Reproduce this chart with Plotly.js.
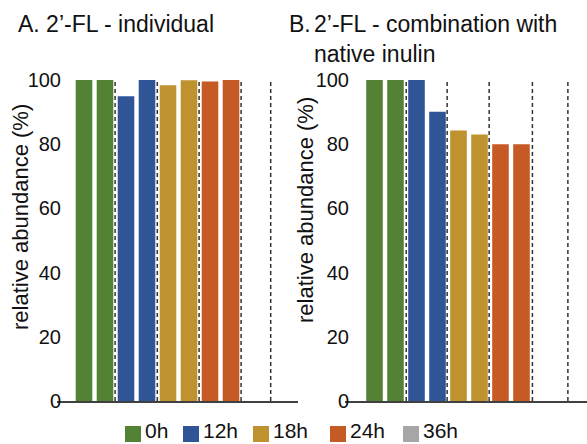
<!DOCTYPE html>
<html>
<head>
<meta charset="utf-8">
<script src="https://cdn.plot.ly/plotly-3.0.1.min.js"></script>
<style>html,body{margin:0;padding:0;background:#fff;}#chart{width:587px;height:444px;}</style>
</head>
<body>
<div id="chart"></div>
<script>
// ---- data ----
const groups = ['0h', '12h', '18h', '24h', '36h'];
const slots = [0, 1, 2, 3, 4, 5, 6, 7, 8, 9];          // two bar slots per time point
const valuesA = [100, 100, 94.9, 100, 98.4, 99.9, 99.5, 100, null, null];
const valuesB = [100, 100, 100, 90.1, 84.3, 83.0, 80.0, 80.0, null, null];
const separatorsA = [1.48, 3.49, 5.48, 7.48, 8.89];
const separatorsB = [1.51, 3.46, 5.46, 7.52, 9.21];
const tickVals = [0, 20, 40, 60, 80, 100];
const titleA = 'A. 2’-FL - individual';
const titleB1 = 'B.';
const titleB2 = '2’-FL - combination with<br>native inulin';
const yTitle = 'relative abundance (%)';

// ---- styles / layout ----
const colors = ['#548235', '#2F5597', '#BF9230', '#C55A24', '#A6A6A6'];
const FONT = 'Liberation Sans, Arial, sans-serif';
const W = 587, H = 444;
const legendSwatchLeft = [125, 183, 253, 330, 403];   // px, legend layout
const legendTextGap = 19;

const traces = [];
groups.forEach((g, gi) => {
  const xs = slots.slice(gi * 2, gi * 2 + 2);
  [['x', 'y', valuesA], ['x2', 'y2', valuesB]].forEach(([xa, ya, vals]) => {
    traces.push({
      type: 'bar', x: xs, y: vals.slice(gi * 2, gi * 2 + 2),
      xaxis: xa, yaxis: ya, width: 0.79, name: g,
      marker: {color: colors[gi], line: {width: 0}},
      showlegend: false, hoverinfo: 'skip'
    });
  });
});

const shapes = [];
[[separatorsA, 'x', 'y'], [separatorsB, 'x2', 'y2']].forEach(([seps, xr, yr]) => {
  seps.forEach(s => shapes.push({
    type: 'line', xref: xr, yref: yr, x0: s, x1: s, y0: 0, y1: 100,
    line: {color: '#333', width: 1.5, dash: '4px,3px'}
  }));
});

const annotations = [
  {text: titleA, xref: 'paper', yref: 'paper', x: 16 / W, y: 1 - 24 / H, xanchor: 'left', yanchor: 'middle',
    showarrow: false, font: {family: FONT, size: 23, color: '#111'}},
  {text: titleB1, xref: 'paper', yref: 'paper', x: 287 / W, y: 1 - 24 / H, xanchor: 'left', yanchor: 'middle',
    showarrow: false, font: {family: FONT, size: 23, color: '#111'}},
  {text: titleB2, xref: 'paper', yref: 'paper', x: 312 / W, y: 1 - 9 / H, xanchor: 'left', yanchor: 'top',
    align: 'left', showarrow: false, font: {family: FONT, size: 23, color: '#111'}},
  {text: yTitle, xref: 'paper', yref: 'paper', x: 20 / W, y: 1 - 217 / H, xanchor: 'center', yanchor: 'middle',
    textangle: -90, showarrow: false, font: {family: FONT, size: 22, color: '#111'}},
  {text: yTitle, xref: 'paper', yref: 'paper', x: 305 / W, y: 1 - 210 / H, xanchor: 'center', yanchor: 'middle',
    textangle: -90, showarrow: false, font: {family: FONT, size: 22, color: '#111'}}
];

// legend (swatch + label)
groups.forEach((g, gi) => {
  const left = legendSwatchLeft[gi];
  shapes.push({type: 'rect', xref: 'paper', yref: 'paper', x0: left / W, x1: (left + 16) / W,
    y0: 1 - 442 / H, y1: 1 - 426 / H, fillcolor: colors[gi], line: {width: 0}});
  annotations.push({text: g, xref: 'paper', yref: 'paper', x: (left + legendTextGap) / W, y: 1 / H,
    xanchor: 'left', yanchor: 'bottom', borderpad: 0, showarrow: false,
    font: {family: FONT, size: 21, color: '#111'}});
});

const xBase = {showgrid: false, zeroline: false, showticklabels: false, ticks: '',
  showline: true, linecolor: '#404040', linewidth: 1.5, fixedrange: true};
const yBase = {range: [0, 100], tickvals: tickVals, showgrid: false, zeroline: false,
  showline: false, ticks: '', tickfont: {family: FONT, size: 20, color: '#111'},
  domain: [1 - 401 / H, 1 - 80 / H], fixedrange: true, ticklabelstandoff: -5};

const layout = {
  width: W, height: H, margin: {l: 0, r: 0, t: 0, b: 0},
  paper_bgcolor: '#fff', plot_bgcolor: '#fff', barmode: 'overlay',
  font: {family: FONT, color: '#111'},
  showlegend: false,
  xaxis: Object.assign({}, xBase, {domain: [57 / W, 298 / W], range: [-1.286, 10.19], anchor: 'y'}),
  yaxis: Object.assign({}, yBase, {anchor: 'x'}),
  xaxis2: Object.assign({}, xBase, {domain: [345 / W, 1], range: [-1.405, 10.12], anchor: 'y2'}),
  yaxis2: Object.assign({}, yBase, {anchor: 'x2'}),
  shapes: shapes,
  annotations: annotations
};

Plotly.newPlot('chart', traces, layout, {displayModeBar: false, staticPlot: true});
</script>
</body>
</html>
